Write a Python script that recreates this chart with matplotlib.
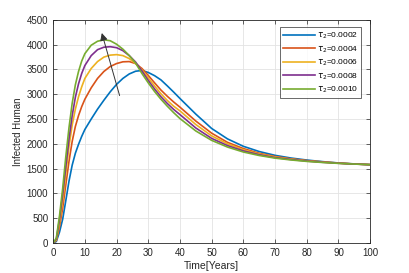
import matplotlib
matplotlib.use("Agg")
import matplotlib.pyplot as plt

plt.rcParams['font.family'] = ['Liberation Sans', 'DejaVu Sans']

# time points (years)
t = [0, 1, 2, 3, 4, 5, 6, 7, 8, 9, 10,
     12, 14, 16, 18, 20, 22, 24, 26, 28, 30, 32, 34, 36, 38, 40,
     45, 50, 55, 60, 65, 70, 75, 80, 85, 90, 95, 100]

# infected human for each tau_2
i_0002 = [0, 30, 220, 480, 860, 1250, 1570, 1810, 1990, 2150, 2290,
          2500, 2700, 2880, 3050, 3200, 3320, 3410, 3465, 3480, 3440, 3375, 3290, 3170, 3045, 2915,
          2600, 2310, 2100, 1950, 1845, 1768, 1714, 1673, 1641, 1614, 1595, 1580]
i_0004 = [0, 50, 330, 700, 1180, 1650, 2050, 2350, 2570, 2750, 2900,
          3130, 3320, 3460, 3560, 3620, 3655, 3660, 3620, 3520, 3380, 3230, 3085, 2960, 2845, 2740,
          2460, 2215, 2030, 1905, 1810, 1745, 1698, 1662, 1636, 1612, 1594, 1580]
i_0006 = [0, 60, 400, 850, 1400, 1950, 2380, 2700, 2950, 3150, 3320,
          3520, 3660, 3750, 3790, 3800, 3780, 3720, 3620, 3490, 3330, 3165, 3010, 2875, 2760, 2665,
          2390, 2160, 2000, 1880, 1795, 1735, 1692, 1657, 1632, 1610, 1593, 1580]
i_0008 = [0, 80, 480, 980, 1550, 2100, 2570, 2940, 3210, 3420, 3580,
          3780, 3900, 3950, 3960, 3940, 3880, 3780, 3650, 3470, 3280, 3105, 2950, 2815, 2695, 2590,
          2320, 2110, 1965, 1858, 1780, 1722, 1684, 1652, 1628, 1608, 1592, 1580]
i_0010 = [0, 100, 550, 1100, 1750, 2330, 2820, 3190, 3460, 3670, 3820,
          3990, 4070, 4100, 4080, 4010, 3910, 3780, 3630, 3420, 3230, 3055, 2900, 2760, 2630, 2510,
          2260, 2070, 1935, 1835, 1765, 1712, 1675, 1646, 1624, 1606, 1592, 1580]

series = [i_0002, i_0004, i_0006, i_0008, i_0010]
labels = [r'$\tau_2$=0.0002', r'$\tau_2$=0.0004', r'$\tau_2$=0.0006',
          r'$\tau_2$=0.0008', r'$\tau_2$=0.0010']
colors = ['#0072BD', '#D95319', '#EDB120', '#7E2F8E', '#77AC30']

fig = plt.figure(figsize=(4.09, 2.73), dpi=100)
ax = fig.add_axes([0.130, 0.110, 0.775, 0.817])

for y, lab, c in zip(series, labels, colors):
    ax.plot(t, y, color=c, lw=1.2, label=lab)

# arrow showing increasing tau_2
ax.annotate('', xy=(15.1, 4290), xytext=(21.2, 2920),
            arrowprops=dict(arrowstyle='-|>', color='#333333', lw=0.7, mutation_scale=11))

ax.set_xlim(0, 100)
ax.set_ylim(0, 4500)
ax.set_xticks(range(0, 101, 10))
ax.set_yticks(range(0, 4501, 500))
ax.grid(True, color='#e3e3e3', lw=0.6)
ax.set_axisbelow(True)
ax.tick_params(direction='in', top=True, right=True, labelsize=7,
               length=3, width=0.5, colors='#262626')
for s in ax.spines.values():
    s.set_color('#262626')
    s.set_linewidth(0.6)

ax.set_xlabel('Time[Years]', fontsize=7.5, color='#262626', labelpad=2)
ax.set_ylabel('Infected Human', fontsize=7, color='#262626', labelpad=3)

leg = ax.legend(loc='upper right', fontsize=6, handlelength=3.8, frameon=True,
                fancybox=False, borderpad=0.4, labelspacing=0.35,
                bbox_to_anchor=(0.985, 0.985), handletextpad=0.2)
leg.get_frame().set_edgecolor('#262626')
leg.get_frame().set_linewidth(0.6)

fig.savefig('out.png', dpi=100)
